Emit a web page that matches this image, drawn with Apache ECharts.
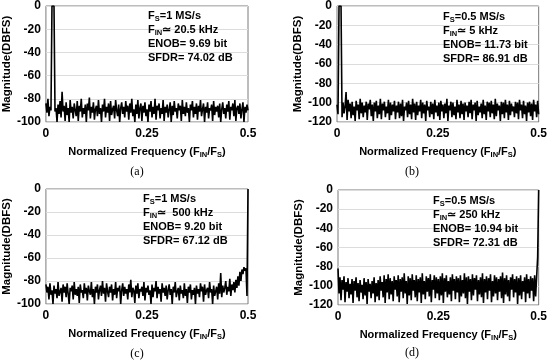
<!DOCTYPE html>
<html><head><meta charset="utf-8">
<script src="https://cdn.jsdelivr.net/npm/echarts@6/dist/echarts.min.js"></script>
<style>html,body{margin:0;padding:0;background:#fff}#c{width:550px;height:364px}</style>
</head><body><div id="c"></div>
<script>
// frequency bin step (normalized frequency), bins from 0 to 0.5
const freqStep = 0.0025;
const xTicks = ['0', '0.25', '0.5'];
const captions = ['(a)', '(b)', '(c)', '(d)'];
const annotA = ['F{s|S}=1 MS/s', 'F{s|IN}≃ 20.5 kHz', 'ENOB= 9.69 bit', 'SFDR= 74.02 dB'];
const annotB = ['F{s|S}=0.5 MS/s', 'F{s|IN}≃ 5 kHz', 'ENOB= 11.73 bit', 'SFDR= 86.91 dB'];
const annotC = ['F{s|S}=1 MS/s', 'F{s|IN}≃  500 kHz', 'ENOB= 9.20 bit', 'SFDR= 67.12 dB'];
const annotD = ['F{s|S}=0.5 MS/s', 'F{s|IN}≃ 250 kHz', 'ENOB= 10.94 bit', 'SFDR= 72.31 dB'];

const magA = [-84,-92,-80,-95,-87,-90,0,0,0,-91,
-88,-100,-85,-93,-82,-96,-74,-91,-86,-99,
-83,-94,-88,-100,-81,-92,-87,-97,-84,-90,
-95,-82,-99,-86,-91,-80,-96,-88,-93,-85,
-100,-84,-90,-79,-97,-87,-92,-83,-98,-89,
-86,-95,-81,-93,-88,-100,-85,-91,-80,-96,
-87,-92,-84,-99,-82,-94,-89,-86,-97,-81,
-90,-95,-85,-100,-88,-83,-93,-87,-96,-82,
-91,-86,-98,-84,-92,-80,-95,-89,-100,-85,
-93,-81,-97,-88,-84,-99,-86,-92,-83,-95,
-89,-100,-85,-91,-82,-96,-87,-93,-80,-98,
-86,-90,-84,-97,-88,-93,-81,-99,-87,-92,
-85,-96,-89,-83,-100,-86,-94,-82,-91,-88,
-97,-84,-90,-86,-99,-81,-93,-87,-95,-83,
-92,-88,-100,-85,-90,-82,-96,-87,-93,-84,
-98,-86,-91,-81,-95,-89,-84,-100,-87,-92,
-83,-97,-88,-90,-85,-99,-82,-94,-87,-91,
-86,-96,-84,-100,-89,-83,-93,-88,-97,-85,
-91,-82,-98,-87,-90,-84,-95,-81,-99,-88,
-86,-93,-84,-97,-89,-83,-100,-87,-92,-85,
-90];

const magB = [-102,-112,0,0,0,-115,-100,-111,-104,-89,
-118,-97,-109,-101,-116,-99,-113,-104,-119,-98,
-108,-102,-117,-96,-111,-100,-115,-103,-110,-99,
-118,-101,-107,-97,-114,-102,-119,-100,-109,-98,
-116,-103,-112,-96,-117,-101,-108,-99,-115,-104,
-111,-97,-118,-100,-113,-102,-109,-98,-117,-103,
-110,-99,-116,-101,-114,-97,-119,-104,-108,-100,
-115,-98,-112,-102,-117,-96,-110,-101,-118,-99,
-113,-103,-109,-97,-116,-100,-111,-102,-119,-98,
-108,-104,-115,-99,-112,-101,-117,-97,-110,-103,
-114,-100,-118,-98,-109,-102,-116,-101,-111,-96,
-119,-103,-108,-99,-115,-100,-113,-104,-117,-97,
-110,-102,-116,-98,-112,-101,-118,-100,-109,-103,
-115,-99,-111,-97,-117,-102,-108,-100,-119,-98,
-113,-104,-110,-101,-116,-97,-112,-103,-118,-99,
-109,-100,-115,-98,-111,-102,-117,-96,-114,-101,
-108,-103,-119,-99,-112,-100,-116,-97,-110,-102,
-118,-98,-113,-101,-109,-104,-115,-99,-111,-100,
-117,-97,-108,-102,-116,-98,-112,-103,-119,-100,
-110,-99,-114,-101,-118,-97,-109,-102,-115,-98,
-112];

const magC = [-83,-90,-85,-96,-82,-92,-88,-100,-84,-91,
-87,-95,-81,-93,-89,-86,-98,-83,-90,-85,
-94,-82,-91,-100,-86,-89,-84,-96,-81,-92,
-87,-93,-85,-99,-83,-90,-88,-95,-82,-91,
-86,-97,-84,-89,-92,-81,-94,-87,-100,-85,
-90,-83,-96,-88,-84,-93,-80,-91,-86,-98,
-82,-89,-94,-85,-90,-83,-97,-87,-92,-81,
-95,-86,-89,-84,-100,-88,-82,-93,-85,-91,
-87,-96,-83,-90,-79,-94,-86,-88,-99,-84,
-91,-82,-95,-87,-89,-85,-93,-81,-97,-86,
-90,-84,-92,-88,-100,-83,-94,-86,-89,-80,
-95,-85,-91,-87,-98,-82,-90,-86,-93,-84,
-96,-88,-83,-92,-87,-100,-85,-90,-81,-94,
-89,-86,-97,-84,-91,-88,-95,-82,-93,-87,
-99,-85,-90,-83,-96,-88,-92,-86,-100,-84,
-91,-87,-94,-82,-89,-85,-98,-83,-92,-88,
-86,-95,-81,-90,-87,-100,-84,-93,-89,-85,
-96,-82,-91,-73,-94,-84,-90,-86,-80,-92,
-85,-89,-78,-93,-83,-88,-81,-90,-79,-86,
-76,-84,-72,-80,-70,-74,-68,-71,-69,-93,
0];

const magD = [-82,-108,-91,-115,-94,-104,-90,-117,-96,-106,
-92,-113,-98,-109,-93,-118,-95,-105,-91,-112,
-97,-116,-94,-107,-99,-114,-92,-110,-96,-119,
-93,-106,-98,-113,-95,-108,-91,-117,-97,-111,
-94,-115,-90,-105,-96,-112,-89,-118,-93,-107,
-88,-114,-92,-109,-95,-116,-90,-104,-94,-111,
-89,-117,-93,-106,-91,-113,-87,-108,-95,-119,
-90,-110,-92,-115,-88,-105,-94,-112,-89,-116,
-93,-107,-91,-118,-87,-109,-95,-114,-90,-106,
-92,-111,-88,-117,-94,-104,-89,-113,-91,-108,
-93,-115,-90,-110,-87,-118,-92,-106,-89,-112,
-95,-109,-91,-116,-88,-105,-93,-114,-90,-107,
-92,-117,-89,-111,-94,-108,-87,-113,-91,-119,
-90,-106,-93,-115,-88,-110,-92,-104,-89,-116,
-94,-109,-91,-112,-87,-118,-93,-107,-90,-114,
-92,-105,-88,-117,-95,-111,-89,-108,-91,-115,
-93,-106,-90,-113,-86,-118,-92,-109,-89,-111,
-94,-116,-91,-104,-88,-112,-93,-107,-90,-119,
-92,-110,-89,-114,-95,-106,-91,-117,-88,-108,
-93,-113,-90,-105,-92,-116,-89,-111,-110,-70,
0];

const FONT = '"Liberation Sans", Arial, sans-serif';
const grids = [
  {left: 43, top: 5, width: 205, height: 117},
  {left: 337, top: 5, width: 206, height: 117},
  {left: 43, top: 189, width: 205, height: 115},
  {left: 338, top: 190, width: 204, height: 115}
];
const yMins = [-100, -120, -100, -120];
const mags = [magA, magB, magC, magD];
const annots = [annotA, annotB, annotC, annotD];
const annotPos = [[148, 9], [443, 10], [143, 192], [433, 194]];
const capPos = [[137, 172], [412, 172], [137, 354], [412, 353]];

const subRich = {
  s: {fontSize: 7.5, fontWeight: 'bold', fontFamily: FONT, color: '#000', lineHeight: 8, padding: [6, 0, 0, 0]}
};

const option = {
  animation: false,
  backgroundColor: '#fff',
  grid: grids.map(g => Object.assign({show: true, borderColor: '#7a7a7a', borderWidth: 1, backgroundColor: '#fff'}, g)),
  xAxis: grids.map((g, i) => ({
    type: 'value', gridIndex: i, min: 0, max: 0.5, interval: 0.25,
    axisLine: {show: false}, axisTick: {show: false}, splitLine: {show: false},
    axisLabel: {color: '#000', fontWeight: 'bold', fontSize: 12, fontFamily: FONT, margin: 6,
      formatter: v => xTicks[Math.round(v / 0.25)]},
    name: 'Normalized Frequency (F{s|IN}/F{s|S})', nameLocation: 'middle', nameGap: 24,
    nameTextStyle: {color: '#000', fontWeight: 'bold', fontSize: 11, fontFamily: FONT, rich: subRich}
  })),
  yAxis: grids.map((g, i) => ({
    type: 'value', gridIndex: i, min: yMins[i], max: 0, interval: 20,
    axisLine: {show: false}, axisTick: {show: false},
    splitLine: {show: true, lineStyle: {color: '#dcdcdc', width: 1}},
    axisLabel: {color: '#000', fontWeight: 'bold', fontSize: 12, fontFamily: FONT, margin: 5},
    name: 'Magnitude(DBFS)', nameLocation: 'middle', nameGap: 29,
    nameTextStyle: {color: '#000', fontWeight: 'bold', fontSize: 11.5, fontFamily: FONT}
  })),
  series: mags.map((m, i) => ({
    type: 'line', xAxisIndex: i, yAxisIndex: i, symbol: 'none',
    lineStyle: {color: '#000', width: 1.6}, z: 3,
    data: m.map((v, k) => [k * freqStep, v])
  })),
  graphic: [].concat(
    annots.map((a, i) => ({
      type: 'text', x: annotPos[i][0], y: annotPos[i][1], z: 10,
      style: {
        text: a.join('\n'), fill: '#000',
        font: 'bold 11px ' + FONT, lineHeight: 14,
        rich: {s: {fontSize: 7.5, fontWeight: 'bold', fontFamily: FONT, fill: '#000', lineHeight: 8, padding: [6, 0, 0, 0]}}
      }
    })),
    captions.map((c, i) => ({
      type: 'text', x: capPos[i][0], y: capPos[i][1], z: 10,
      style: {text: c, fill: '#000', font: '12px "Liberation Serif", "Times New Roman", serif',
        align: 'center', verticalAlign: 'middle'}
    }))
  )
};
const chart = echarts.init(document.getElementById('c'), null, {renderer: 'canvas'});
chart.setOption(option);
</script></body></html>
